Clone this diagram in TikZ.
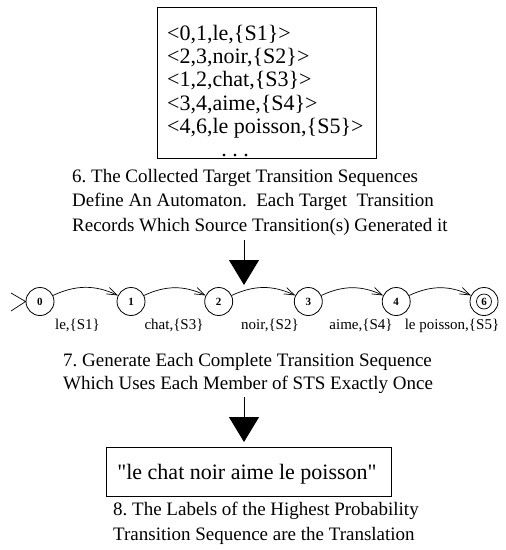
\documentclass[tikz,border=0pt]{standalone}
\usepackage{fontspec}
\setmainfont{Liberation Serif}
\usetikzlibrary{arrows.meta}
\begin{document}
\frenchspacing
\begin{tikzpicture}[x=1pt,y=-1pt,
  stn/.style={circle,draw,line width=0.8pt,minimum size=28pt,inner sep=0pt,font=\fontsize{11}{11}\selectfont\bfseries},
  lbl/.style={font=\fontsize{15}{15}\selectfont,inner sep=0pt,anchor=base},
  captext/.style={font=\fontsize{19}{24.5}\selectfont,align=left,anchor=base west,inner sep=0pt},
  trans/.style={-{Straight Barb[length=10pt,width=7pt]},line width=0.7pt,bend left=25},
  bigarrow/.style={-{Triangle[length=25pt,width=30pt]},line width=1pt},
  boxed/.style={draw,line width=0.8pt,inner sep=0pt,anchor=north west}
]
\useasboundingbox (0,0) rectangle (506,550);

% box of collected target transitions
\node[boxed,minimum width=219pt,minimum height=151pt] (box1) at (157,7) {};
\node[anchor=base west,align=left,inner sep=0pt,font=\fontsize{22}{23.4}\selectfont] (list) at (167,133.6)
  {<0,1,le,\{S1\}>\\<2,3,noir,\{S2\}>\\<1,2,chat,\{S3\}>\\<3,4,aime,\{S4\}>\\<4,6,le poisson,\{S5\}>};
\node[anchor=base,inner sep=0pt,font=\fontsize{22}{22}\selectfont] (dots) at (235,156) {. . .};

% caption 6
\node[captext] (cap6) at (72,231) {6. The Collected Target Transition Sequences\\Define An Automaton.\ \ Each Target\ \ Transition\\Records Which Source Transition(s) Generated it};

% arrow 1
\coordinate (a1s) at (244,240);
\coordinate (a1e) at (244,285);
\draw[bigarrow] (a1s) -- (a1e);

% automaton
\node[stn] (q0) at (40,301.5) {0};
\node[stn] (q1) at (131,301.5) {1};
\node[stn] (q2) at (218.7,301.5) {2};
\node[stn] (q3) at (308.3,301.5) {3};
\node[stn] (q4) at (396.2,301.5) {4};
\node[stn] (q6) at (484,301.5) {6};
\node[circle,draw,line width=0.7pt,minimum size=15pt,inner sep=0pt] (q6in) at (q6) {};

\coordinate (iu) at (11,293);
\coordinate (il) at (11,311);
\draw[line width=0.7pt] (iu) -- (q0.west) -- (il);

\draw[trans] (q0) to (q1);
\draw[trans] (q1) to (q2);
\draw[trans] (q2) to (q3);
\draw[trans] (q3) to (q4);
\draw[trans] (q4) to (q6);

\node[lbl] (l01) at (77.5,329) {le,\{S1\}};
\node[lbl] (l12) at (174,329) {chat,\{S3\}};
\node[lbl] (l23) at (270,329) {noir,\{S2\}};
\node[lbl] (l34) at (361,329) {aime,\{S4\}};
\node[lbl] (l46) at (452,329) {le poisson,\{S5\}};

% caption 7
\node[captext,font=\fontsize{19}{23}\selectfont] (cap7) at (63,389) {7. Generate Each Complete Transition Sequence\\Which Uses Each Member of STS Exactly Once};

% arrow 2
\coordinate (a2s) at (244,397);
\coordinate (a2e) at (244,442);
\draw[bigarrow] (a2s) -- (a2e);

% result box
\node[boxed,minimum width=285pt,minimum height=49pt] (box2) at (106,447) {};
\node[anchor=base,inner sep=0pt,font=\fontsize{22}{22}\selectfont] (res) at (247,479) {\textquotedbl le chat noir aime le poisson\textquotedbl};

% caption 8
\node[captext,font=\fontsize{19}{25}\selectfont] (cap8) at (113,540) {8. The Labels of the Highest Probability\\Transition Sequence are the Translation};
\end{tikzpicture}
\end{document}
